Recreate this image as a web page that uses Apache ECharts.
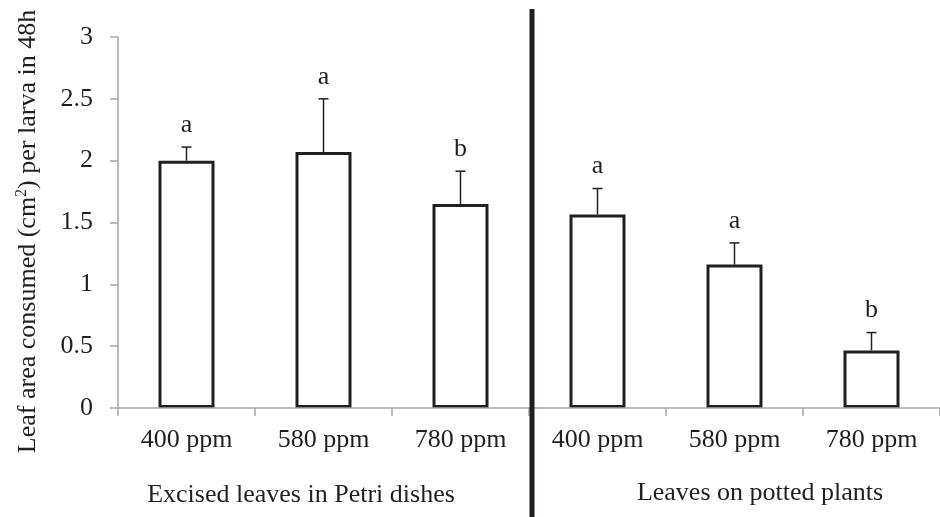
<!DOCTYPE html>
<html>
<head>
<meta charset="utf-8">
<script src="https://cdn.jsdelivr.net/npm/echarts@6/dist/echarts.min.js"></script>
<style>
  html, body { margin: 0; padding: 0; background: #fff; }
  #chart { width: 940px; height: 517px; }
</style>
</head>
<body>
<div id="chart"></div>
<script>
  // data
  const categories = ['400 ppm', '580 ppm', '780 ppm', '400 ppm', '580 ppm', '780 ppm']
  const means = [2.0, 2.07, 1.65, 1.565, 1.16, 0.465]
  const errors = [0.11, 0.43, 0.265, 0.21, 0.175, 0.145]
  const letters = ['a', 'a', 'b', 'a', 'a', 'b']
  const groups = ['Excised leaves in Petri dishes', 'Leaves on potted plants']
  const yTicks = { min: 0, max: 3, interval: 0.5 }

  const font = 'Liberation Serif, Times New Roman, serif'
  const ink = '#231f20'
  const axisGray = '#a6a6a6'
  const fs = 26

  const chart = echarts.init(document.getElementById('chart'))

  chart.setOption({
    animation: false,
    backgroundColor: '#fff',
    grid: {
      left: 118,
      top: 37,
      width: 827,
      bottom: 109
    },
    xAxis: {
      type: 'category',
      data: categories,
      z: 3,
      axisLine: { lineStyle: { color: axisGray, width: 1.5 } },
      axisTick: { show: true, length: 8, lineStyle: { color: axisGray, width: 1.5 } },
      axisLabel: {
        color: ink,
        fontFamily: font,
        fontSize: fs,
        margin: 19
      }
    },
    yAxis: {
      type: 'value',
      min: yTicks.min,
      max: yTicks.max,
      interval: yTicks.interval,
      name: '{n|Leaf area consumed (cm}{s|2}{n|) per larva in 48h}',
      nameLocation: 'middle',
      nameGap: 76,
      nameRotate: 90,
      nameTextStyle: {
        padding: [0, 18, 0, 0],
        rich: {
          n: { fontFamily: font, fontSize: fs, color: ink },
          s: { fontFamily: font, fontSize: 16, color: ink, verticalAlign: 'top', padding: [0, 0, 12, 0] }
        }
      },
      splitLine: { show: false },
      axisLine: { show: true, lineStyle: { color: axisGray, width: 1.5 } },
      axisTick: { show: true, length: 8, lineStyle: { color: axisGray, width: 1.5 } },
      axisLabel: {
        color: ink,
        fontFamily: font,
        fontSize: fs,
        margin: 25
      }
    },
    series: [
      {
        type: 'bar',
        data: means,
        barWidth: 56,
        itemStyle: {
          color: '#fff',
          borderColor: ink,
          borderWidth: 3
        }
      },
      {
        type: 'custom',
        z: 4,
        data: means.map((m, i) => [i, m, errors[i]]),
        renderItem: function (params, api) {
          const i = api.value(0)
          const base = api.coord([i, api.value(1)])
          const top = api.coord([i, api.value(1) + api.value(2)])
          const cap = 5
          return {
            type: 'group',
            children: [
              {
                type: 'line',
                shape: { x1: base[0], y1: base[1], x2: top[0], y2: top[1] },
                style: { stroke: ink, lineWidth: 1.5 }
              },
              {
                type: 'line',
                shape: { x1: top[0] - cap, y1: top[1], x2: top[0] + cap, y2: top[1] },
                style: { stroke: ink, lineWidth: 1.5 }
              },
              {
                type: 'text',
                style: {
                  x: top[0],
                  y: top[1] - 9,
                  text: letters[params.dataIndex],
                  align: 'center',
                  verticalAlign: 'bottom',
                  font: fs + 'px ' + font,
                  fill: ink
                }
              }
            ]
          }
        }
      }
    ]
  })

  // separator between the two experiments and group captions
  const c2 = chart.convertToPixel({ xAxisIndex: 0 }, 2)
  const c3 = chart.convertToPixel({ xAxisIndex: 0 }, 3)
  const sepX = (c2 + c3) / 2 + 3
  chart.setOption({
    graphic: [
      {
        type: 'line',
        shape: { x1: sepX, y1: 9, x2: sepX, y2: 517 },
        style: { stroke: ink, lineWidth: 5 },
        z: 10
      },
      {
        type: 'text',
        x: 301,
        y: 495,
        style: { text: groups[0], font: fs + 'px ' + font, fill: ink, align: 'center', verticalAlign: 'middle' }
      },
      {
        type: 'text',
        x: 760,
        y: 493,
        style: { text: groups[1], font: fs + 'px ' + font, fill: ink, align: 'center', verticalAlign: 'middle' }
      }
    ]
  })
</script>
</body>
</html>
